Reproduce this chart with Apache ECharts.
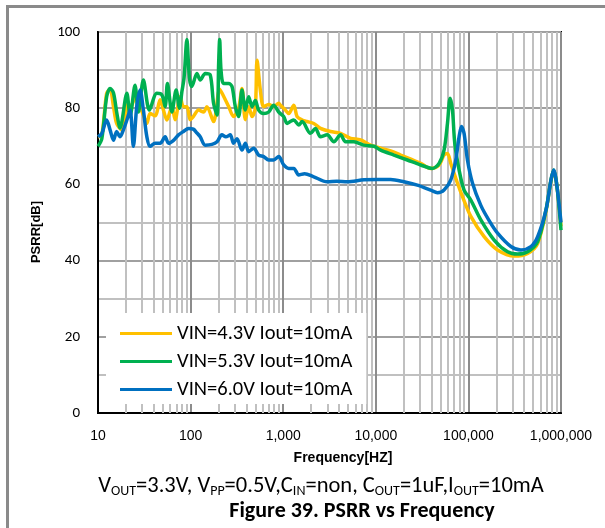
<!DOCTYPE html>
<html>
<head>
<meta charset="utf-8">
<script src="https://cdn.jsdelivr.net/npm/echarts@6/dist/echarts.min.js"></script>
<style>
html,body{margin:0;padding:0;background:#fff;}
#c{width:605px;height:528px;}
</style>
</head>
<body>
<div id="c"></div>
<script>
// ---- data ----
const seriesNames = ['VIN=4.3V Iout=10mA', 'VIN=5.3V Iout=10mA', 'VIN=6.0V Iout=10mA'];

const freq43 = [10, 11, 12.4, 13.5, 14.7, 15.9, 18, 19.6, 21.3, 22.2, 26.2, 28.5, 30.9, 33.7, 36.5, 41.4, 46.9, 50.9, 55.4, 62.8, 68.1, 77.2, 83.8, 91.2, 99, 107, 122, 138, 150, 177, 206, 218, 257, 291, 330, 359, 390, 424, 461, 500, 522, 566, 615, 697, 789, 894, 933, 1056, 1146, 1300, 1413, 1602, 1800, 2138, 2528, 3243, 4161, 5335, 6844, 8785, 11270, 14450, 18540, 30540, 39180, 48210, 54580, 59410, 64530, 76250, 86320, 106200, 147900, 206500, 312600, 436300, 559700, 688600, 779900, 834000, 905700, 1000000];
const psrr43 = [72.5, 73, 83.9, 85, 80.4, 76, 74.3, 77.8, 81.3, 80, 83.9, 80.4, 78.2, 76, 78.6, 78, 82.2, 79.5, 76.9, 80.4, 77, 83, 80.4, 80.4, 77, 77.8, 79.5, 79, 80.4, 76.5, 85, 84, 80.5, 77.8, 80, 85.2, 77, 80.4, 77.8, 80, 92.6, 84.8, 80.4, 81, 80.4, 81.3, 80.8, 79.5, 78.6, 80.8, 77.8, 76.9, 76.5, 76, 74.7, 73.9, 73.4, 72.1, 71.7, 70.3, 69.5, 68.8, 67.7, 65.5, 64.2, 65.1, 67.7, 68.1, 65.5, 60.3, 56.8, 51.6, 46.3, 42.8, 41.2, 41.9, 44.5, 53, 61, 63.5, 59.4, 49];

const freq53 = [10, 11, 12.4, 13.5, 14.7, 15.9, 17.3, 20.5, 22.2, 25.1, 27.3, 30.9, 35.9, 43.2, 48.9, 53.1, 56.2, 62.8, 69.8, 75.9, 80.5, 85, 91.2, 97, 103, 117, 127, 144, 163, 177, 193, 201, 206, 213, 227, 257, 280, 304, 330, 359, 390, 424, 461, 500, 543, 615, 697, 789, 894, 1012, 1101, 1196, 1300, 1471, 1602, 1969, 2230, 2528, 2986, 3524, 4161, 4714, 5797, 7434, 9530, 11270, 15700, 21930, 30540, 40850, 48210, 54580, 59410, 63380, 67300, 71260, 79310, 89800, 106200, 136200, 189700, 264900, 339900, 436300, 559700, 688600, 779900, 834000, 905700, 1000000];
const psrr53 = [70, 72, 83, 85.2, 84, 79, 74.8, 83.9, 77.8, 86, 79, 87.4, 79.5, 83.9, 83.5, 80.4, 86.5, 79, 84.8, 80, 84.3, 88, 98, 88, 85.7, 89.1, 87.4, 89.1, 88.7, 81.3, 78.2, 92, 98, 90, 86.5, 86.5, 85.7, 80.4, 77.8, 84.8, 79.5, 83, 80.4, 82, 79.5, 78.6, 79, 80.8, 79, 77.8, 76, 76.5, 76.9, 75.6, 76.5, 73.4, 74.7, 72.5, 73, 71.2, 73, 71.2, 71.2, 70.3, 70, 69, 67.7, 66.4, 65.1, 64.2, 65.5, 69, 76, 82.6, 79.5, 70.8, 63.8, 58.5, 55.9, 50.7, 45.4, 42.3, 41.7, 42.3, 45, 53.3, 61.2, 63.8, 59.4, 48];

const freq60 = [10, 11, 12.4, 13.5, 14.7, 15.9, 17.3, 18.8, 20.5, 22.2, 24.1, 26.2, 28.5, 30.9, 33.7, 36.5, 41.4, 46.9, 53.1, 57.7, 65, 74, 83.8, 94.9, 107, 117, 127, 144, 170, 193, 218, 240, 268, 291, 317, 359, 390, 424, 480, 543, 615, 697, 789, 894, 1012, 1146, 1300, 1471, 1700, 2138, 2986, 3800, 4916, 7434, 10376, 14450, 20140, 28110, 39180, 46340, 54580, 64530, 73040, 79310, 84150, 89800, 97700, 110800, 136200, 167500, 206500, 287700, 369000, 473500, 559700, 688600, 779900, 834000, 905700, 1000000];
const psrr60 = [72.5, 73.4, 76.9, 74.3, 71.6, 73.9, 72.5, 74.3, 76.9, 79.5, 70, 80.4, 84.8, 79.5, 72.5, 70, 70.8, 70.8, 72.5, 70.8, 71.5, 73, 73.9, 74.7, 74.5, 73.5, 72.5, 70.3, 70.5, 71.2, 73, 72.5, 73, 70.8, 72, 69, 70.8, 68.6, 69.5, 67.7, 67.3, 66.4, 66.4, 67.3, 65.1, 64.2, 64.2, 62.5, 62.8, 62, 60.7, 60.8, 60.7, 61.2, 61.3, 61.3, 60.7, 59.8, 58.5, 57.8, 58.5, 61.2, 66.4, 72.5, 75.2, 73.4, 66.4, 60.3, 54.5, 50.5, 47.2, 43.7, 42.8, 43.7, 46.3, 53.3, 61.2, 63.8, 59.4, 50];

// minor (2..9 x decade) vertical grid frequencies
const minorGridFreqs = [20,30,40,50,60,70,80,90, 200,300,400,500,600,700,800,900, 2000,3000,4000,5000,6000,7000,8000,9000, 20000,30000,40000,50000,60000,70000,80000,90000, 200000,300000,400000,500000,600000,700000,800000,900000];

const xAxisTitle = 'Frequency[HZ]';
const yAxisTitle = 'PSRR[dB]';
const figureTitle = 'Figure 39. PSRR vs Frequency';

// ---- chart ----
const colors = ['#FFC000', '#00B050', '#0070C0'];
const zip = (f, v) => f.map((x, i) => [x, v[i]]);
const seriesData = [zip(freq43, psrr43), zip(freq53, psrr53), zip(freq60, psrr60)];
const calibri = 'Carlito, Lato, sans-serif';
const arial = 'Liberation Sans, Arial, sans-serif';

const chart = echarts.init(document.getElementById('c'), null, {renderer: 'canvas'});
const fmt = v => String(Math.round(v)).replace(/\B(?=(\d{3})+(?!\d))/g, ',');

chart.setOption({
  animation: false,
  backgroundColor: '#fff',
  grid: {left: 98, right: 44, top: 32, bottom: 115, show: true, borderColor: '#000', borderWidth: 2, backgroundColor: 'transparent'},
  legend: {
    data: seriesNames.map(n => ({name: n, icon: 'rect'})),
    orient: 'vertical', left: 106, top: 313, z: 10,
    itemWidth: 52, itemHeight: 3, itemGap: 7,
    padding: [10, 14, 4, 14],
    backgroundColor: '#fff',
    textStyle: {fontFamily: calibri, fontSize: 20.5, lineHeight: 20, color: '#000'}
  },
  xAxis: {
    type: 'log', logBase: 10, min: 10, max: 1000000,
    axisLine: {show: true, lineStyle: {color: '#000', width: 2}},
    axisTick: {show: false},
    splitLine: {show: true, lineStyle: {color: '#8c8c8c', width: 2}},
    axisLabel: {formatter: fmt, fontFamily: arial, fontSize: 14, color: '#000', margin: 16}
  },
  yAxis: {
    type: 'value', min: 0, max: 100, interval: 20,
    axisLine: {show: true, lineStyle: {color: '#000', width: 2}},
    axisTick: {show: false},
    splitLine: {show: true, lineStyle: {color: '#a0a0a0', width: 2}},
    minorTick: {show: false, splitNumber: 2},
    minorSplitLine: {show: true, lineStyle: {color: '#c0c0c0', width: 2}},
    axisLabel: {fontFamily: calibri, fontSize: 15, color: '#000', margin: 18}
  },
  graphic: [
    {type: 'rect', shape: {x: 6, y: 5, width: 599, height: 3}, style: {fill: '#8a8a8a'}},
    {type: 'rect', shape: {x: 6, y: 5, width: 3, height: 523}, style: {fill: '#8a8a8a'}},
    {type: 'text', x: 36, y: 232, rotation: Math.PI / 2,
     style: {text: yAxisTitle, font: 'bold 13px ' + arial, fill: '#000', align: 'center', verticalAlign: 'middle'}},
    {type: 'text', x: 343, y: 458,
     style: {text: xAxisTitle, font: 'bold 14px ' + arial, fill: '#000', align: 'center', verticalAlign: 'middle'}},
    {type: 'text', x: 321, y: 485,
     style: {
       text: '{n|V}{s|OUT}{n|=3.3V, V}{s|PP}{n|=0.5V,C}{s|IN}{n|=non, C}{s|OUT}{n|=1uF,I}{s|OUT}{n|=10mA}',
       align: 'center', verticalAlign: 'middle', fill: '#000',
       rich: {
         n: {fontFamily: calibri, fontSize: 22.5, lineHeight: 26, verticalAlign: 'bottom'},
         s: {fontFamily: calibri, fontSize: 14, lineHeight: 18, verticalAlign: 'bottom'}
       }
     }},
    {type: 'text', x: 362, y: 511,
     style: {text: figureTitle, font: 'bold 22px ' + calibri, fill: '#000', align: 'center', verticalAlign: 'middle'}}
  ],
  series: [
    {
      type: 'line', name: '__grid', data: [], z: 1, silent: true,
      markLine: {
        silent: true, symbol: 'none', label: {show: false}, z: 1,
        lineStyle: {color: '#c0c0c0', width: 2, type: 'solid'},
        data: minorGridFreqs.map(f => ({xAxis: f}))
      }
    }
  ].concat(seriesData.map((d, i) => ({
    type: 'line', name: seriesNames[i], data: d, z: 3 + i,
    showSymbol: false, symbol: 'none', smooth: 0.3,
    lineStyle: {color: colors[i], width: 3.5},
    itemStyle: {color: colors[i]}
  })))
});
</script>
</body>
</html>
